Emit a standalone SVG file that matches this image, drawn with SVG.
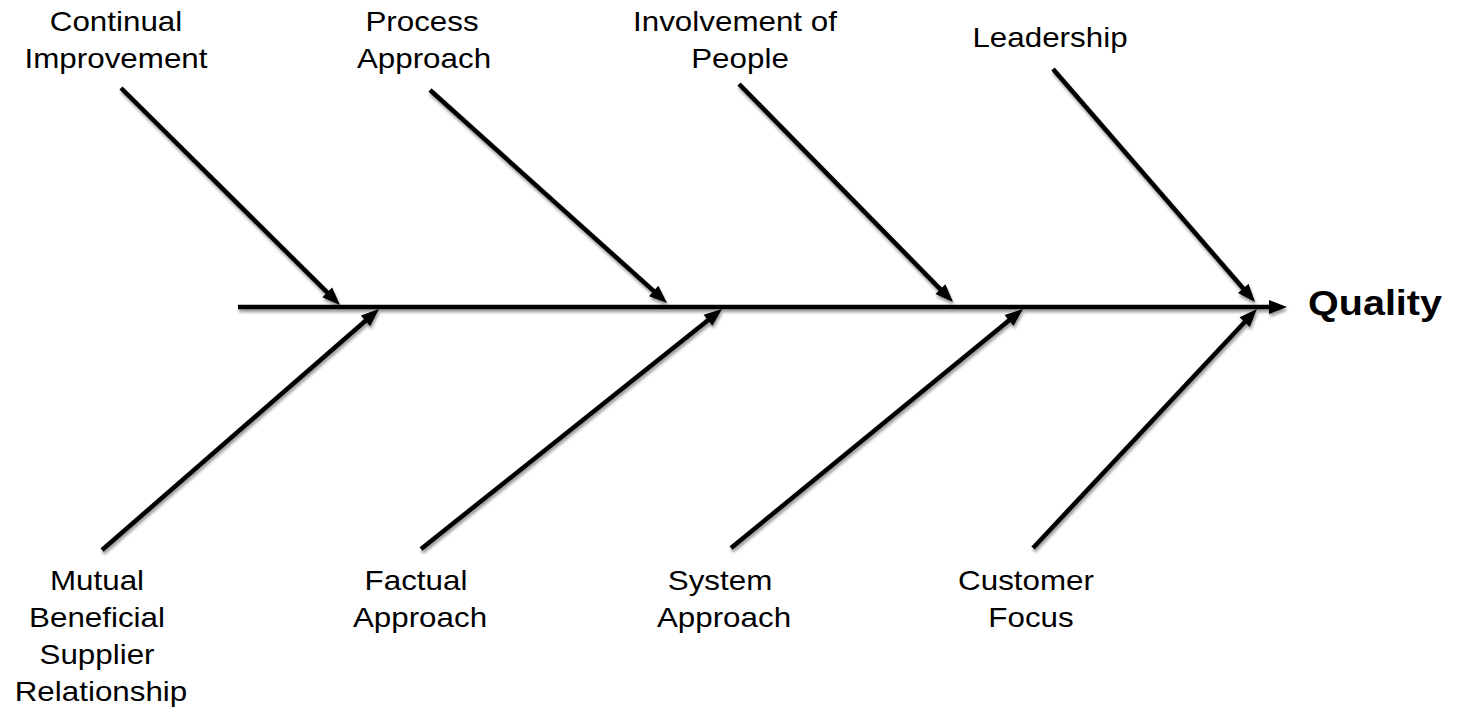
<svg xmlns="http://www.w3.org/2000/svg" width="1462" height="713" viewBox="0 0 1462 713">
<style>
  .lbl { font-family: "Liberation Sans", Arial, sans-serif; font-size: 28px; fill: #000; text-anchor: middle; }
  .title { font-family: "Liberation Sans", Arial, sans-serif; font-size: 35px; font-weight: bold; fill: #000; }
  .conn line { stroke: #000; stroke-width: 4.5; fill: none; marker-end: url(#ah); }
</style>
<defs>
  <marker id="ah" markerUnits="userSpaceOnUse" markerWidth="19" markerHeight="15" refX="10" refY="7" orient="auto" overflow="visible">
    <path d="M0,0 L18,7 L0,14 z" fill="#000"/>
  </marker>
  <filter id="shadow" filterUnits="userSpaceOnUse" x="0" y="0" width="1462" height="713">
    <feDropShadow dx="1" dy="3" stdDeviation="1.8" flood-color="#000" flood-opacity="0.4"/>
  </filter>
</defs>
<rect width="1462" height="713" fill="#fff"/>

<g id="connectors" class="conn" filter="url(#shadow)">
  <line x1="238" y1="307" x2="1279" y2="307"/>
  <line x1="121" y1="88" x2="334.3" y2="299.4"/>
  <line x1="430" y1="90" x2="661.1" y2="297.7"/>
  <line x1="739" y1="84" x2="947.4" y2="296.3"/>
  <line x1="1053" y1="69" x2="1249.8" y2="296"/>
  <line x1="102" y1="550" x2="373" y2="314.3"/>
  <line x1="421" y1="549" x2="715.8" y2="314"/>
  <line x1="731" y1="548" x2="1016.8" y2="314.1"/>
  <line x1="1033" y1="548" x2="1251.5" y2="314.8"/>
</g>

<g id="quality">
  <text class="title" transform="translate(1308,315) scale(1.13,1)" x="0" y="0">Quality</text>
</g>

<g id="continual-improvement">
  <text class="lbl" transform="translate(116,31) scale(1.12,1)">Continual</text>
  <text class="lbl" transform="translate(116,68) scale(1.12,1)">Improvement</text>
</g>
<g id="process-approach">
  <text class="lbl" transform="translate(422,31) scale(1.12,1)">Process</text>
  <text class="lbl" transform="translate(424,68) scale(1.12,1)">Approach</text>
</g>
<g id="involvement-of-people">
  <text class="lbl" transform="translate(735,31) scale(1.12,1)">Involvement of</text>
  <text class="lbl" transform="translate(740,68) scale(1.12,1)">People</text>
</g>
<g id="leadership">
  <text class="lbl" transform="translate(1050,47) scale(1.12,1)">Leadership</text>
</g>

<g id="mutual-beneficial">
  <text class="lbl" transform="translate(97,590) scale(1.12,1)">Mutual</text>
  <text class="lbl" transform="translate(97,627) scale(1.12,1)">Beneficial</text>
  <text class="lbl" transform="translate(97,664) scale(1.12,1)">Supplier</text>
  <text class="lbl" transform="translate(101,701) scale(1.12,1)">Relationship</text>
</g>
<g id="factual-approach">
  <text class="lbl" transform="translate(416,590) scale(1.12,1)">Factual</text>
  <text class="lbl" transform="translate(420,627) scale(1.12,1)">Approach</text>
</g>
<g id="system-approach">
  <text class="lbl" transform="translate(720,590) scale(1.12,1)">System</text>
  <text class="lbl" transform="translate(724,627) scale(1.12,1)">Approach</text>
</g>
<g id="customer-focus">
  <text class="lbl" transform="translate(1026,590) scale(1.12,1)">Customer</text>
  <text class="lbl" transform="translate(1031,627) scale(1.12,1)">Focus</text>
</g>
</svg>
